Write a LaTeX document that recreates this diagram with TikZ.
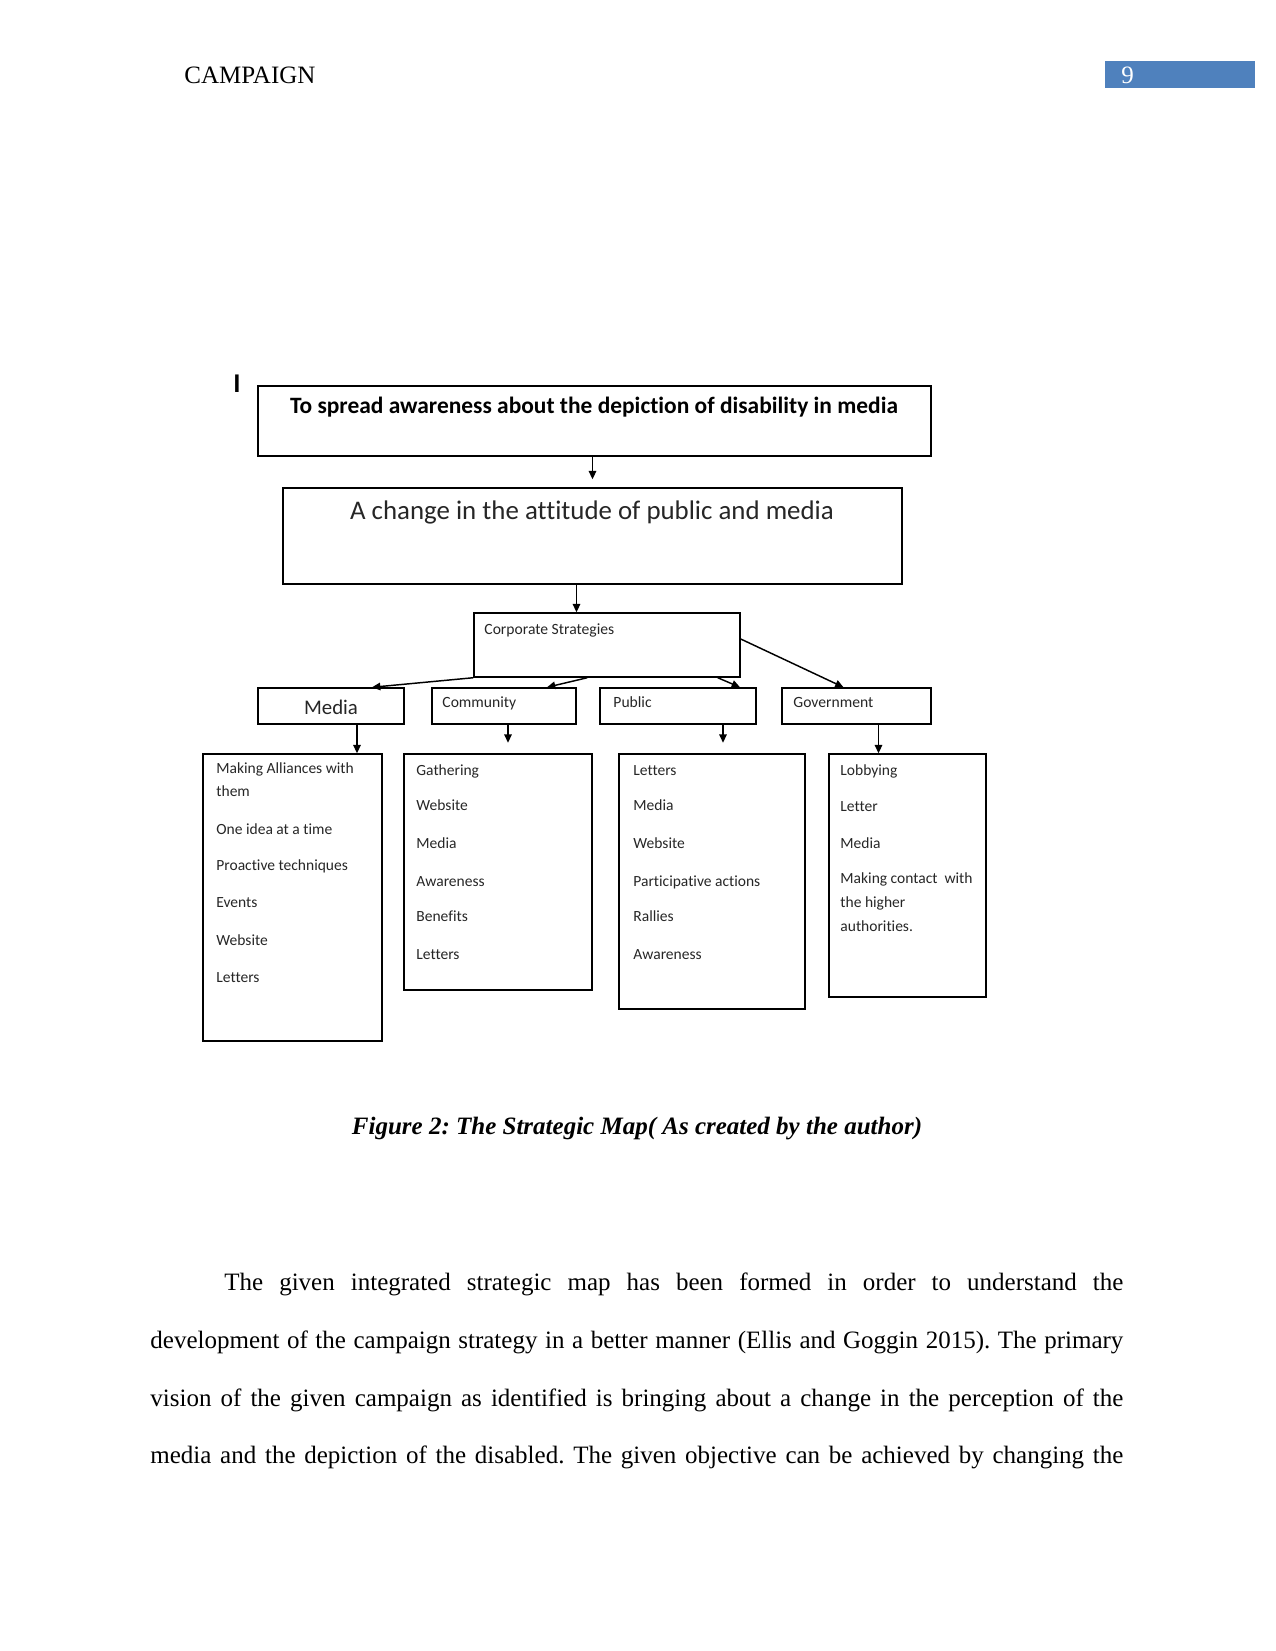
\documentclass[tikz,border=0pt]{standalone}
\usepackage{fontspec}
\setmainfont{Liberation Serif}
\newfontfamily\calfont[Ligatures={NoCommon}]{Carlito}
\usetikzlibrary{arrows.meta,fit,calc}
\definecolor{hdrblue}{HTML}{4F81BD}
\frenchspacing
\tikzset{
  box/.style={draw, line width=0.7pt, inner sep=0pt},
  arr/.style={line width=0.7pt, -{Triangle[length=4pt,width=3.6pt]}},
  lbl/.style={anchor=base west, inner sep=0pt, text=black!85, font=\calfont\fontsize{7.45}{9}\selectfont},
  hlbl/.style={anchor=base west, inner sep=0pt, text=black!85, font=\calfont\fontsize{7.5}{9}\selectfont},
  body/.style={anchor=base west, inner sep=0pt, font=\fontsize{12}{14}\selectfont},
}
\begin{document}
\begin{tikzpicture}[x=0.48pt, y=-0.48pt]
\useasboundingbox (0,0) rectangle (1275,1651);
% header
\node[body] (hdr) at (184,84) {CAMPAIGN};
\node[fill=hdrblue, inner sep=0pt, fit={(1105,61) (1255,88)}] (pgbox) {};
\node[body, text=white] (pgnum) at (1121,84) {9};
% stray mark
\node[anchor=base west, inner sep=0pt, font=\calfont\bfseries\fontsize{13}{15}\selectfont] (mark) at (233,392) {I};
% boxes
\node[box, fit={(258,386) (931,456)}] (top) {};
\node[box, fit={(283,488) (902,584)}] (sec) {};
\node[box, fit={(474,613) (740,677)}] (corp) {};
\node[box, fit={(258,688) (404,724)}] (media) {};
\node[box, fit={(432,688) (576,724)}] (comm) {};
\node[box, fit={(600,688) (756,724)}] (pub) {};
\node[box, fit={(782,688) (931,724)}] (gov) {};
\node[box, fit={(203,754) (382,1041)}] (dmedia) {};
\node[box, fit={(404,754) (592,990)}] (dcomm) {};
\node[box, fit={(619,754) (805,1009)}] (dpub) {};
\node[box, fit={(829,754) (986,997)}] (dgov) {};
% box titles
\node[anchor=base, inner sep=0pt, font=\calfont\bfseries\fontsize{11.25}{13}\selectfont] (toptxt) at (594,413) {To spread awareness about the depiction of disability in media};
\node[anchor=base, inner sep=0pt, text=black!85, font=\calfont\fontsize{12.9}{15}\selectfont] (sectxt) at (592,519) {A change in the attitude of public and media};
\node[hlbl] (corptxt) at (484,634) {Corporate Strategies};
\node[anchor=base, inner sep=0pt, text=black!85, font=\calfont\fontsize{10}{12}\selectfont] (mediatxt) at (331,714) {Media};
\node[hlbl] (commtxt) at (442,707) {Community};
\node[hlbl] (pubtxt) at (613,707) {Public};
\node[hlbl] (govtxt) at (793,707) {Government};
% detail lists
\node[lbl] (m1) at (216,773) {Making Alliances with};
\node[lbl] (m2) at (216,796) {them};
\node[lbl] (m3) at (216,834) {One idea at a time};
\node[lbl] (m4) at (216,870) {Proactive techniques};
\node[lbl] (m5) at (216,907) {Events};
\node[lbl] (m6) at (216,945) {Website};
\node[lbl] (m7) at (216,982) {Letters};
\node[lbl] (c1) at (416,775) {Gathering};
\node[lbl] (c2) at (416,810) {Website};
\node[lbl] (c3) at (416,848) {Media};
\node[lbl] (c4) at (416,886) {Awareness};
\node[lbl] (c5) at (416,921) {Benefits};
\node[lbl] (c6) at (416,959) {Letters};
\node[lbl] (p1) at (633,775) {Letters};
\node[lbl] (p2) at (633,810) {Media};
\node[lbl] (p3) at (633,848) {Website};
\node[lbl] (p4) at (633,886) {Participative actions};
\node[lbl] (p5) at (633,921) {Rallies};
\node[lbl] (p6) at (633,959) {Awareness};
\node[lbl] (g1) at (840,775) {Lobbying};
\node[lbl] (g2) at (840,811) {Letter};
\node[lbl] (g3) at (840,848) {Media};
\node[lbl] (g4) at (840,883) {Making contact\ \ with};
\node[lbl] (g5) at (840,907) {the higher};
\node[lbl] (g6) at (840,931) {authorities.};
% connector anchor points
\coordinate (s1) at ($(top.south)+(-2,0)$);
\coordinate (s1e) at ($(sec.north)+(0,-8)$);
\coordinate (s2) at ($(sec.south)+(-16,0)$);
\coordinate (ms) at ($(media.south)+(26,0)$);
\coordinate (gs) at ($(gov.south)+(22,0)$);
% connectors
\draw[arr] (s1) -- (s1 |- s1e);
\draw[arr] (s2) -- (s2 |- corp.north);
\draw[arr] (corp.south west) -- ($(media.north)+(41,0)$);
\draw[arr] ($(corp.south west)+(114,0)$) -- ($(comm.north)+(43,0)$);
\draw[arr] ($(corp.south east)+(-23,0)$) -- ($(pub.north)+(62,0)$);
\draw[arr] ($(corp.east)+(0,-6)$) -- ($(gov.north)+(-13,0)$);
\draw[arr] (ms) -- (ms |- dmedia.north);
\draw[arr] ($(comm.south)+(4,0)$) -- ($(comm.south)+(4,18)$);
\draw[arr] ($(pub.south)+(45,0)$) -- ($(pub.south)+(45,18)$);
\draw[arr] (gs) -- (gs |- dgov.north);
% caption
\node[anchor=base, inner sep=0pt, font=\bfseries\itshape\fontsize{12}{14}\selectfont] (cap) at (637,1134) {Figure 2: The Strategic Map( As created by the author)};
% body text
\node[body] (l1) at (224,1290) {\makebox[431.5pt][s]{The given integrated strategic map has been formed in order to understand the}};
\node[body] (l2) at (150,1348) {\makebox[467pt][s]{development of the campaign strategy in a better manner (Ellis and Goggin 2015). The primary}};
\node[body] (l3) at (150,1406) {\makebox[467pt][s]{vision of the given campaign as identified is bringing about a change in the perception of the}};
\node[body] (l4) at (150,1463) {\makebox[467pt][s]{media and the depiction of the disabled. The given objective can be achieved by changing the}};
\end{tikzpicture}
\end{document}
